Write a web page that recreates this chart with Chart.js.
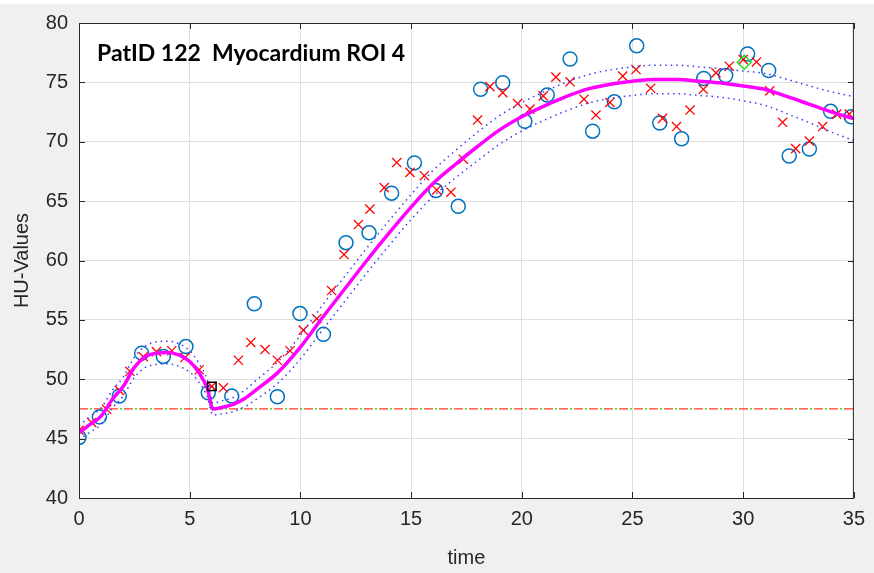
<!DOCTYPE html>
<html>
<head>
<meta charset="utf-8">
<script src="https://cdn.jsdelivr.net/npm/chart.js@4.4.1/dist/chart.umd.min.js"></script>
<style>
  html, body { margin: 0; padding: 0; background: #f0f0f0; }
  #wrap { width: 874px; height: 573px; position: relative; }
</style>
</head>
<body>
<div id="wrap"><canvas id="huChart"></canvas></div>
<script>
// measured samples (blue circles)
const circleT = [0, 0.92, 1.82, 2.83, 3.81, 4.83, 5.84, 6.9, 7.92, 8.96, 9.98, 11.04, 12.06, 13.1, 14.12, 15.15, 16.12, 17.13,
  18.14, 19.14, 20.14, 21.15, 22.18, 23.2, 24.18, 25.19, 26.23, 27.22, 28.22, 29.21, 30.2, 31.15, 32.08, 32.99, 33.95, 34.88];
const circleHU = [45.1, 46.83, 48.58, 52.2, 51.92, 52.75, 48.86, 48.58, 56.36, 48.53, 55.53, 53.78, 61.5, 62.33, 65.67, 68.22, 65.89, 64.56,
  74.42, 74.97, 71.72, 73.94, 76.97, 70.89, 73.36, 78.08, 71.58, 70.25, 75.33, 75.58, 77.39, 76.0, 68.8, 69.39, 72.56, 72.1];

// resampled values (red crosses)
const crossT = [0, 0.57, 1.25, 1.82, 2.3, 2.9, 3.5, 4.19, 4.79, 5.43, 6.0, 6.52, 7.2, 7.76, 8.4, 8.96, 9.53, 10.13, 10.74, 11.41,
  11.97, 12.62, 13.14, 13.79, 14.35, 14.95, 15.6, 16.16, 16.8, 17.36, 18.0, 18.56, 19.14, 19.81, 20.37, 20.97, 21.54, 22.18,
  22.81, 23.35, 23.98, 24.56, 25.16, 25.82, 26.36, 26.99, 27.6, 28.2, 28.77, 29.37, 30.0, 30.6, 31.2, 31.78, 32.37, 32.99,
  33.59, 34.22, 34.79];
const crossHU = [45.7, 46.36, 47.47, 49.06, 50.67, 51.9, 52.33, 52.4, 51.83, 50.8, 49.4, 49.28, 51.6, 53.1, 52.5, 51.6, 52.4, 54.14, 55.1, 57.47,
  60.5, 63.03, 64.33, 66.14, 68.25, 67.42, 67.14, 65.94, 65.75, 68.53, 71.83, 74.64, 74.14, 73.22, 72.75, 73.86, 75.44, 75.05,
  73.58, 72.25, 73.31, 75.53, 76.08, 74.5, 71.97, 71.28, 72.67, 74.42, 75.8, 76.36, 76.92, 76.72, 74.28, 71.64, 69.42, 70.06,
  71.28, 72.33, 72.33];

// fitted curve and confidence bounds
const fitT = [0, 0.5, 1, 1.5, 2, 2.5, 3, 3.5, 4, 4.5, 5, 5.4, 5.8, 6.05, 6.5, 7, 7.5, 8, 9, 10, 11, 12, 13, 14, 15, 16, 17,
  18, 19, 20, 21, 22, 23, 24, 25, 26, 27, 28, 29, 30, 31, 32, 33, 34, 35];
const fitHU = [45.5, 46.2, 46.9, 48.3, 49.4, 51.0, 51.9, 52.2, 52.25, 52.05, 51.5, 50.6, 49.2, 47.5, 47.65, 47.9, 48.4, 49.1, 50.6, 52.7, 55.2,
  57.6, 60.0, 62.3, 64.5, 66.5, 68.1, 69.6, 71.0, 72.1, 73.0, 73.8, 74.45, 74.85, 75.1, 75.25, 75.25, 75.1, 74.95, 74.7, 74.4, 73.8, 73.15, 72.5, 71.95];
const upperHU = [46.1, 46.85, 47.6, 49.05, 50.2, 51.85, 52.8, 53.15, 53.2, 53.0, 52.4, 51.4, 49.9, 48.0, 48.2, 48.5, 49.1, 49.9, 51.5, 53.7, 56.25,
  58.65, 61.05, 63.35, 65.55, 67.6, 69.25, 70.8, 72.2, 73.3, 74.2, 75.0, 75.65, 76.05, 76.3, 76.45, 76.45, 76.3, 76.15, 75.95, 75.75, 75.25, 74.7, 74.2, 73.8];
const lowerHU = [44.9, 45.55, 46.2, 47.55, 48.6, 50.15, 51.0, 51.25, 51.3, 51.1, 50.6, 49.8, 48.5, 47.0, 47.1, 47.3, 47.7, 48.3, 49.7, 51.7, 54.15,
  56.55, 58.95, 61.25, 63.45, 65.4, 66.95, 68.4, 69.8, 70.9, 71.8, 72.6, 73.25, 73.65, 73.9, 74.05, 74.05, 73.9, 73.75, 73.45, 73.05, 72.35, 71.6, 70.8, 70.1];

// baseline level
const baseT = [0, 35];
const baseHU = [47.5, 47.5];

// special markers
const startT = [6.0], startHU = [49.4];
const peakT = [30.05], peakHU = [76.7];

const xTicks = [0, 5, 10, 15, 20, 25, 30, 35];
const yTicks = [40, 45, 50, 55, 60, 65, 70, 75, 80];

const pts = (xs, ys) => xs.map((x, i) => ({ x: x, y: ys[i] }));
const axisColor = '#262626';

// white plot area, inward ticks, box and texts (MATLAB look)
const matlabAxes = {
  id: 'matlabAxes',
  beforeDraw(chart) {
    const { ctx, chartArea: a } = chart;
    ctx.save();
    ctx.fillStyle = '#ffffff';
    ctx.fillRect(0, 0, chart.width, 4);
    ctx.fillRect(a.left, a.top, a.right - a.left, a.bottom - a.top);
    ctx.restore();
  },
  afterDraw(chart) {
    const { ctx, chartArea: a, scales } = chart;
    ctx.save();
    ctx.strokeStyle = axisColor;
    ctx.lineWidth = 1;
    ctx.beginPath();
    xTicks.forEach(v => {
      const x = Math.round(scales.x.getPixelForValue(v)) + 0.5;
      ctx.moveTo(x, a.bottom); ctx.lineTo(x, a.bottom - 6);
      ctx.moveTo(x, a.top); ctx.lineTo(x, a.top + 6);
    });
    yTicks.forEach(v => {
      const y = Math.round(scales.y.getPixelForValue(v)) + 0.5;
      ctx.moveTo(a.left, y); ctx.lineTo(a.left + 6, y);
      ctx.moveTo(a.right, y); ctx.lineTo(a.right - 6, y);
    });
    ctx.stroke();
    ctx.strokeRect(a.left + 0.5, a.top + 0.5, a.right - a.left - 1, a.bottom - a.top);

    ctx.fillStyle = axisColor;
    ctx.font = '20px "Liberation Sans", Arial, sans-serif';
    ctx.textAlign = 'center';
    ctx.textBaseline = 'middle';
    ctx.fillText('time', (a.left + a.right) / 2, 558);
    ctx.translate(22, (a.top + a.bottom) / 2);
    ctx.rotate(-Math.PI / 2);
    ctx.fillText('HU-Values', 0, 0);
    ctx.restore();

    ctx.save();
    ctx.fillStyle = '#000000';
    ctx.font = 'bold 23px Lato, "Open Sans", sans-serif';
    ctx.textAlign = 'left';
    ctx.textBaseline = 'middle';
    ctx.fillText('PatID 122  Myocardium ROI 4', 97, 54);
    ctx.restore();
  }
};

new Chart(document.getElementById('huChart'), {
  type: 'scatter',
  data: {
    datasets: [
      {
        label: 'baseline', data: pts(baseT, baseHU), showLine: true, pointRadius: 0,
        borderColor: '#00e000', borderWidth: 1.2, borderDash: [2, 13], borderDashOffset: -11, order: 6
      },
      {
        label: 'baseline2', data: pts(baseT, baseHU), showLine: true, pointRadius: 0,
        borderColor: '#ff3b1f', borderWidth: 1.2, borderDash: [9, 6], order: 7
      },
      {
        label: 'samples', data: pts(circleT, circleHU), pointStyle: 'circle', pointRadius: 7,
        backgroundColor: 'rgba(0,0,0,0)', borderColor: '#0072bd', pointBorderWidth: 1.5, order: 5
      },
      {
        label: 'resampled', data: pts(crossT, crossHU), pointStyle: 'crossRot', pointRadius: 6.5,
        borderColor: '#ff0000', pointBorderWidth: 1.3, order: 4
      },
      {
        label: 'fit', data: pts(fitT, fitHU), showLine: true, pointRadius: 0,
        borderColor: '#ff00ff', borderWidth: 3.5, cubicInterpolationMode: 'monotone', order: 3
      },
      {
        label: 'upper', data: pts(fitT, upperHU), showLine: true, pointRadius: 0,
        borderColor: '#3a3aff', borderWidth: 1.5, borderDash: [1.5, 4], cubicInterpolationMode: 'monotone', order: 2
      },
      {
        label: 'lower', data: pts(fitT, lowerHU), showLine: true, pointRadius: 0,
        borderColor: '#3a3aff', borderWidth: 1.5, borderDash: [1.5, 4], cubicInterpolationMode: 'monotone', order: 2
      },
      {
        label: 'start', data: pts(startT, startHU), pointStyle: 'rect', pointRadius: 6,
        backgroundColor: 'rgba(0,0,0,0)', borderColor: '#000000', pointBorderWidth: 1.5, order: 1
      },
      {
        label: 'peak', data: pts(peakT, peakHU), pointStyle: 'rectRot', pointRadius: 7,
        backgroundColor: 'rgba(0,0,0,0)', borderColor: '#22dd22', pointBorderWidth: 1.5, order: 1
      }
    ]
  },
  options: {
    responsive: true,
    maintainAspectRatio: false,
    animation: false,
    layout: { padding: { left: 0, right: 20, top: 18, bottom: 0 } },
    plugins: { legend: { display: false }, tooltip: { enabled: false } },
    scales: {
      x: {
        type: 'linear', min: 0, max: 35,
        afterFit: s => { s.height = 75; },
        afterBuildTicks: s => { s.ticks = xTicks.map(v => ({ value: v })); },
        grid: { color: '#dedede', lineWidth: 1, drawTicks: false },
        border: { display: false },
        ticks: { color: axisColor, padding: 9, font: { family: '"Liberation Sans", Arial', size: 20 }, maxRotation: 0 }
      },
      y: {
        type: 'linear', min: 40, max: 80,
        afterFit: s => { s.width = 79; },
        afterBuildTicks: s => { s.ticks = yTicks.map(v => ({ value: v })); },
        grid: { color: '#dedede', lineWidth: 1, drawTicks: false },
        border: { display: false },
        ticks: { color: axisColor, padding: 11, font: { family: '"Liberation Sans", Arial', size: 20 } }
      }
    }
  },
  plugins: [matlabAxes]
});
</script>
</body>
</html>
